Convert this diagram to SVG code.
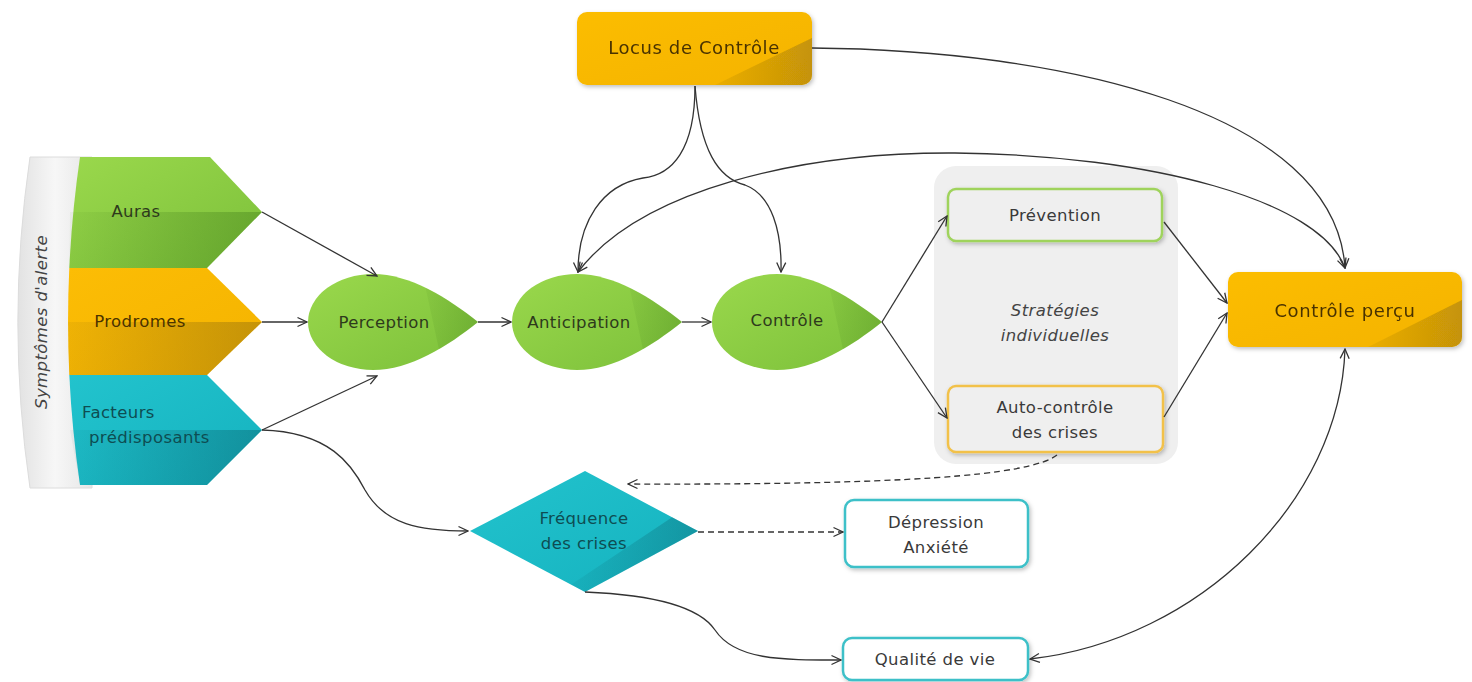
<svg xmlns="http://www.w3.org/2000/svg" xmlns:xlink="http://www.w3.org/1999/xlink" width="1472" height="682" viewBox="0 0 1472 682">
<style>
text{font-family:"DejaVu Sans","Liberation Sans",sans-serif;font-size:16.5px;letter-spacing:0.4px;text-anchor:middle}
.tg{fill:#2e3a1c}
.to{fill:#4a3300;font-size:18px;letter-spacing:0.6px}
.tt{fill:#0e4d52}
.tb{fill:#3a3a3a}
.con{fill:none;stroke:#333;stroke-width:1.3}
.dash{stroke-dasharray:6 4}
</style>
<defs>
<marker id="arr" viewBox="0 0 12 12" refX="11" refY="6" markerWidth="12" markerHeight="12" markerUnits="userSpaceOnUse" orient="auto-start-reverse">
<path d="M1.5,1.5 L11,6 L1.5,10.5" fill="none" stroke="#333" stroke-width="1.3"/>
</marker>
<linearGradient id="gGreen" x1="0" y1="0" x2="1" y2="1"><stop offset="0" stop-color="#9ad84c"/><stop offset="1" stop-color="#7cc03a"/></linearGradient>
<linearGradient id="gOrange" x1="0" y1="0" x2="1" y2="1"><stop offset="0" stop-color="#fcbd05"/><stop offset="1" stop-color="#f4b300"/></linearGradient>
<linearGradient id="gTeal" x1="0" y1="0" x2="1" y2="1"><stop offset="0" stop-color="#22c3cd"/><stop offset="1" stop-color="#15b2bf"/></linearGradient>
<linearGradient id="ovGreen" x1="0" y1="0" x2="1" y2="0"><stop offset="0" stop-color="#3f7a18" stop-opacity="0.05"/><stop offset="1" stop-color="#3f7a18" stop-opacity="0.4"/></linearGradient>
<linearGradient id="ovOrange" x1="0" y1="0" x2="1" y2="0"><stop offset="0" stop-color="#8a6a10" stop-opacity="0.1"/><stop offset="1" stop-color="#8a6a10" stop-opacity="0.45"/></linearGradient>
<linearGradient id="ovTeal" x1="0" y1="0" x2="1" y2="0"><stop offset="0" stop-color="#0a5a66" stop-opacity="0.05"/><stop offset="1" stop-color="#0a5a66" stop-opacity="0.4"/></linearGradient>
<linearGradient id="gBand" x1="0" y1="0" x2="1" y2="0"><stop offset="0" stop-color="#e2e2e2"/><stop offset="0.5" stop-color="#f7f7f7"/><stop offset="1" stop-color="#e6e6e6"/></linearGradient>
<path id="drop" d="M65,-48 A65,48 0 0 0 65,48 C102,48 140,24 170,0 C140,-24 102,-48 65,-48 Z"/>
<clipPath id="cDrop"><use xlink:href="#drop"/></clipPath>
<clipPath id="cLocus"><rect x="577" y="12" width="235" height="73" rx="10"/></clipPath>
<clipPath id="cPercu"><rect x="1228" y="272" width="234" height="75" rx="10"/></clipPath>
<clipPath id="cDiam"><polygon points="470,531 585,471 698,531 585,592"/></clipPath>
<filter id="sh" x="-10%" y="-10%" width="130%" height="140%"><feDropShadow dx="1.5" dy="2" stdDeviation="2" flood-color="#000" flood-opacity="0.25"/></filter>
</defs>

<g id="symptomes">
<path d="M92,157 L30,157 A1140,1140 0 0 0 30,488 L92,488 Z" fill="url(#gBand)" stroke="#dcdcdc" stroke-width="1"/>
<text x="0" y="0" transform="translate(47,322) rotate(-90)" style="font-style:italic;font-size:16.5px;fill:#444">Symptômes d'alerte</text>
</g>

<g id="auras">
<path d="M80,157 L210,157 L262,212 L207,268 L69.3,268 A1140,1140 0 0 1 80,157 Z" fill="url(#gGreen)"/>
<path d="M70,212 L262,212 L207,268 L69.3,268 Z" fill="url(#ovGreen)"/>
<text class="tg" x="136" y="217">Auras</text>
</g>
<g id="prodromes">
<path d="M69.3,268 L207,268 L262,322 L207,375 L69.3,375 A1140,1140 0 0 1 69.3,268 Z" fill="url(#gOrange)"/>
<path d="M68,322 L262,322 L207,375 L69.3,375 Z" fill="url(#ovOrange)"/>
<text class="to" style="font-size:16.5px;letter-spacing:0.4px" x="140" y="327">Prodromes</text>
</g>
<g id="facteurs">
<path d="M69.3,375 L207,375 L262,430 L207,485 L80,485 A1140,1140 0 0 1 69.3,375 Z" fill="url(#gTeal)"/>
<path d="M70,430 L262,430 L207,485 L80,485 Z" fill="url(#ovTeal)"/>
<text class="tt" x="82" y="418" style="text-anchor:start">Facteurs</text>
<text class="tt" x="89" y="443" style="text-anchor:start">prédisposants</text>
</g>

<g id="locus" filter="url(#sh)">
<rect x="577" y="12" width="235" height="73" rx="10" fill="url(#gOrange)"/>
<polygon points="715,85 812,38 812,85" fill="url(#ovOrange)" clip-path="url(#cLocus)"/>
<text class="to" x="694" y="54">Locus de Contrôle</text>
</g>

<g id="perception" transform="translate(308,322)">
<use xlink:href="#drop" fill="url(#gGreen)"/>
<g clip-path="url(#cDrop)"><polygon points="112,-60 200,-60 200,60 138,60" fill="url(#ovGreen)"/></g>
<text class="tg" x="76" y="6">Perception</text>
</g>
<g id="anticipation" transform="translate(512,322)">
<use xlink:href="#drop" fill="url(#gGreen)"/>
<g clip-path="url(#cDrop)"><polygon points="112,-60 200,-60 200,60 138,60" fill="url(#ovGreen)"/></g>
<text class="tg" x="67" y="6">Anticipation</text>
</g>
<g id="controle" transform="translate(712,322)">
<use xlink:href="#drop" fill="url(#gGreen)"/>
<g clip-path="url(#cDrop)"><polygon points="112,-60 200,-60 200,60 138,60" fill="url(#ovGreen)"/></g>
<text class="tg" x="75" y="4">Contrôle</text>
</g>

<g id="strategies">
<rect x="934" y="166" width="244" height="298" rx="22" fill="#efefef"/>
<text x="1055" y="316" style="font-style:italic;fill:#444">Stratégies</text>
<text x="1055" y="341" style="font-style:italic;fill:#444">individuelles</text>
</g>
<g id="prevention">
<rect x="948" y="189" width="214" height="52" rx="8" fill="#efefef" stroke="#9fd35c" stroke-width="2.5" filter="url(#sh)"/>
<text class="tb" x="1055" y="221">Prévention</text>
</g>
<g id="autocontrole">
<rect x="948" y="386" width="215" height="66" rx="8" fill="#efefef" stroke="#f2c14a" stroke-width="2.5" filter="url(#sh)"/>
<text class="tb" x="1055" y="413">Auto-contrôle</text>
<text class="tb" x="1055" y="438">des crises</text>
</g>

<g id="percu" filter="url(#sh)">
<rect x="1228" y="272" width="234" height="75" rx="10" fill="url(#gOrange)"/>
<polygon points="1368,347 1462,300 1462,347" fill="url(#ovOrange)" clip-path="url(#cPercu)"/>
<text class="to" x="1345" y="317">Contrôle perçu</text>
</g>

<g id="frequence">
<polygon points="470,531 585,471 698,531 585,592" fill="url(#gTeal)"/>
<polygon points="560,592 698,500 720,600" fill="url(#ovTeal)" clip-path="url(#cDiam)"/>
<text class="tt" x="584" y="524">Fréquence</text>
<text class="tt" x="584" y="549">des crises</text>
</g>

<g id="depression">
<rect x="845" y="500" width="183" height="67" rx="9" fill="#fff" stroke="#3cc0c8" stroke-width="2.5" filter="url(#sh)"/>
<text class="tb" x="936" y="528">Dépression</text>
<text class="tb" x="936" y="553">Anxiété</text>
</g>
<g id="qualite">
<rect x="843" y="638" width="185" height="42" rx="9" fill="#fff" stroke="#3cc0c8" stroke-width="2.5" filter="url(#sh)"/>
<text class="tb" x="935" y="665">Qualité de vie</text>
</g>

<g id="connectors" class="con">
<path class="con" d="M262,212 L377,276" marker-end="url(#arr)"/>
<path class="con" d="M262,322 L307,322" marker-end="url(#arr)"/>
<path class="con" d="M262,430 L377,376" marker-end="url(#arr)"/>
<path class="con" d="M478,322 L511,322" marker-end="url(#arr)"/>
<path class="con" d="M682,322 L711,322" marker-end="url(#arr)"/>
<path class="con" d="M882,322 L947,216" marker-end="url(#arr)"/>
<path class="con" d="M882,322 L947,418" marker-end="url(#arr)"/>
<path class="con" d="M1164,222 L1227,303" marker-end="url(#arr)"/>
<path class="con" d="M1164,417 L1227,313" marker-end="url(#arr)"/>
<path class="con" d="M695,86 C695,150 672,175 643,178 C602,185 578,222 578,272" marker-end="url(#arr)"/>
<path class="con" d="M695,86 C700,150 718,178 745,185 C772,195 782,232 781,272" marker-end="url(#arr)"/>
<path class="con" d="M812,48 C1060,50 1335,110 1345,268" marker-end="url(#arr)"/>
<path class="con" d="M578,272 C640,190 800,152 955,153 C1150,155 1320,200 1345,268" marker-start="url(#arr)" marker-end="url(#arr)"/>
<path class="con" d="M262,430 C330,432 352,465 365,490 C385,525 420,531 468,531" marker-end="url(#arr)"/>
<path class="con dash" d="M1057,455 C1030,476 900,485 628,484" marker-end="url(#arr)"/>
<path class="con dash" d="M698,532 L843,532" marker-end="url(#arr)"/>
<path class="con" d="M585,592 C660,595 700,608 715,630 C735,660 780,660 841,660" marker-end="url(#arr)"/>
<path class="con" d="M1030,659 C1200,640 1340,500 1345,349" marker-start="url(#arr)" marker-end="url(#arr)"/>
</g>
</svg>
